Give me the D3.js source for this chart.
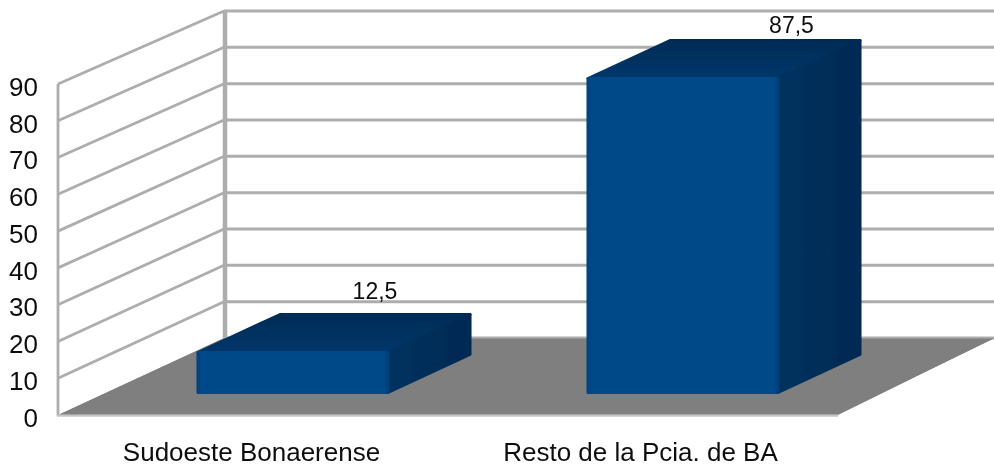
<!DOCTYPE html>
<html><head><meta charset="utf-8">
<script src="https://cdn.jsdelivr.net/npm/d3@7"></script>
<style>
html,body{margin:0;padding:0;background:#fff}
svg{display:block}
text{font-family:"Liberation Sans",Arial,sans-serif;fill:#111}
</style></head><body>
<svg id="c" width="994" height="468"></svg>
<script>
const categories = ["Sudoeste Bonaerense", "Resto de la Pcia. de BA"];
const values = [12.5, 87.5];
const valueLabels = ["12,5", "87,5"];
const tickValues = [0, 10, 20, 30, 40, 50, 60, 70, 80, 90];

const svg = d3.select("#c");
const defs = svg.append("defs");
defs.append("filter").attr("id","soft").attr("x","-5%").attr("y","-5%").attr("width","110%").attr("height","110%")
  .append("feGaussianBlur").attr("stdDeviation",0.6);
defs.append("filter").attr("id","softText").attr("x","-5%").attr("y","-5%").attr("width","110%").attr("height","110%")
  .append("feGaussianBlur").attr("stdDeviation",0.35);
const grad=(id,x2,y2,stops)=>{const g=defs.append("linearGradient").attr("id",id).attr("x1",0).attr("y1",0).attr("x2",x2).attr("y2",y2);
  stops.forEach(([o,c])=>g.append("stop").attr("offset",o).attr("stop-color",c));};
grad("front",1,0,[[0,"#034480"],[0.02,"#004889"],[0.98,"#004889"],[1,"#003f78"]]);
grad("top",0,1,[[0,"#002c56"],[1,"#00376b"]]);
grad("side",1,0,[[0,"#003261"],[1,"#002a52"]]);

// front and back planes of the 3D box
const yFront = d3.scaleLinear().domain([0,90]).range([415,84]);
const yBack  = d3.scaleLinear().domain([0,90]).range([338,11]);
const xFloor = d3.scaleBand().domain(categories).range([58,838]).paddingInner(0.505).paddingOuter(0.2525);
const yBar   = d3.scaleLinear().domain([12.5,87.5]).range([351,77]);
const xL=58, xR=838, depthX=166, depthY=77;
const barDX=40, barDepthX=82, barDepthY=38, barBase=394;

const chart = svg.append("g").attr("filter","url(#soft)");
const grid = "#adadad";

// floor
chart.append("polygon").attr("fill","#7f7f7f")
  .attr("points",[[xL,yFront(0)],[xL+depthX,yBack(0)],[xR+156,yBack(0)],[xR,yFront(0)]].join(" "));

// gridlines
const g = chart.append("g").attr("fill","none").attr("stroke",grid);
g.selectAll(".h").data(tickValues).join("line").attr("stroke-width",3)
  .attr("x1",xL+depthX).attr("x2",994).attr("y1",d=>yBack(d)).attr("y2",d=>yBack(d));
g.selectAll(".s").data(tickValues.filter(d=>d>0)).join("line").attr("stroke-width",2.8)
  .attr("x1",xL).attr("x2",xL+depthX).attr("y1",d=>yFront(d)).attr("y2",d=>yBack(d));
g.append("line").attr("stroke-width",4.5).attr("x1",xL+depthX+1).attr("x2",xL+depthX+1).attr("y1",yBack(90)-1).attr("y2",yBack(0));
g.append("line").attr("stroke-width",2.8).attr("x1",xL).attr("x2",xL).attr("y1",yFront(90)).attr("y2",yFront(0)+1);
g.append("line").attr("stroke-width",2.4).attr("x1",xL-1).attr("x2",xR).attr("y1",yFront(0)+0.5).attr("y2",yFront(0)+0.5).attr("stroke","#c4c4c4");

// re-cover the floor over the back baseline
chart.append("polygon").attr("fill","#7f7f7f")
  .attr("points",[[xL+2,yFront(0)-0.8],[xL+depthX,yBack(0)+0.5],[xR+156,yBack(0)+0.5],[xR,yFront(0)-0.8]].join(" "));

// bars
const bars = chart.selectAll(".bar").data(values).join("g");
const poly=(sel,fill,pts)=>sel.append("polygon").attr("fill",fill).attr("stroke",fill).attr("stroke-width",3).attr("stroke-linejoin","round").attr("points",pts);
bars.each(function(v,i){
  const s=d3.select(this), x0=xFloor(categories[i])+barDX+1.5, x1=x0+xFloor.bandwidth()-3, t=yBar(v)+1.5, b=barBase-1.5;
  poly(s,"url(#top)",[[x0,t],[x0+barDepthX,t-barDepthY],[x1+barDepthX,t-barDepthY],[x1,t]].join(" "));
  poly(s,"url(#side)",[[x1,t],[x1+barDepthX,t-barDepthY],[x1+barDepthX,b-barDepthY],[x1,b]].join(" "));
  poly(s,"url(#front)",[[x0,t],[x1,t],[x1,b],[x0,b]].join(" "));
});

const labels = svg.append("g").attr("filter","url(#softText)");

// axis labels
const axis = d3.axisLeft(yFront).tickValues(tickValues).tickSize(0).tickPadding(0).tickFormat(d3.format("d"));
const ax = labels.append("g").attr("transform","translate(38,3)").call(axis);
ax.select(".domain").remove();
ax.selectAll("text").attr("font-size",26).attr("font-family",null).attr("fill","#111");

// category labels
const catShift=[-1.5,-2.5];
labels.selectAll(".cat").data(categories).join("text").attr("class","cat")
  .attr("x",(d,i)=>xFloor(d)+xFloor.bandwidth()/2+catShift[i]).attr("y",461).attr("text-anchor","middle").attr("font-size",26).text(d=>d);

// value labels
const labelOffset=[[82,-14],[108.5,-6]];
labels.selectAll(".val").data(values).join("text").attr("class","val")
  .attr("x",(d,i)=>xFloor(categories[i])+xFloor.bandwidth()/2+barDX+labelOffset[i][0])
  .attr("y",(d,i)=>yBar(d)-barDepthY+labelOffset[i][1])
  .attr("text-anchor","middle").attr("font-size",23).text((d,i)=>valueLabels[i]);
</script></body></html>
